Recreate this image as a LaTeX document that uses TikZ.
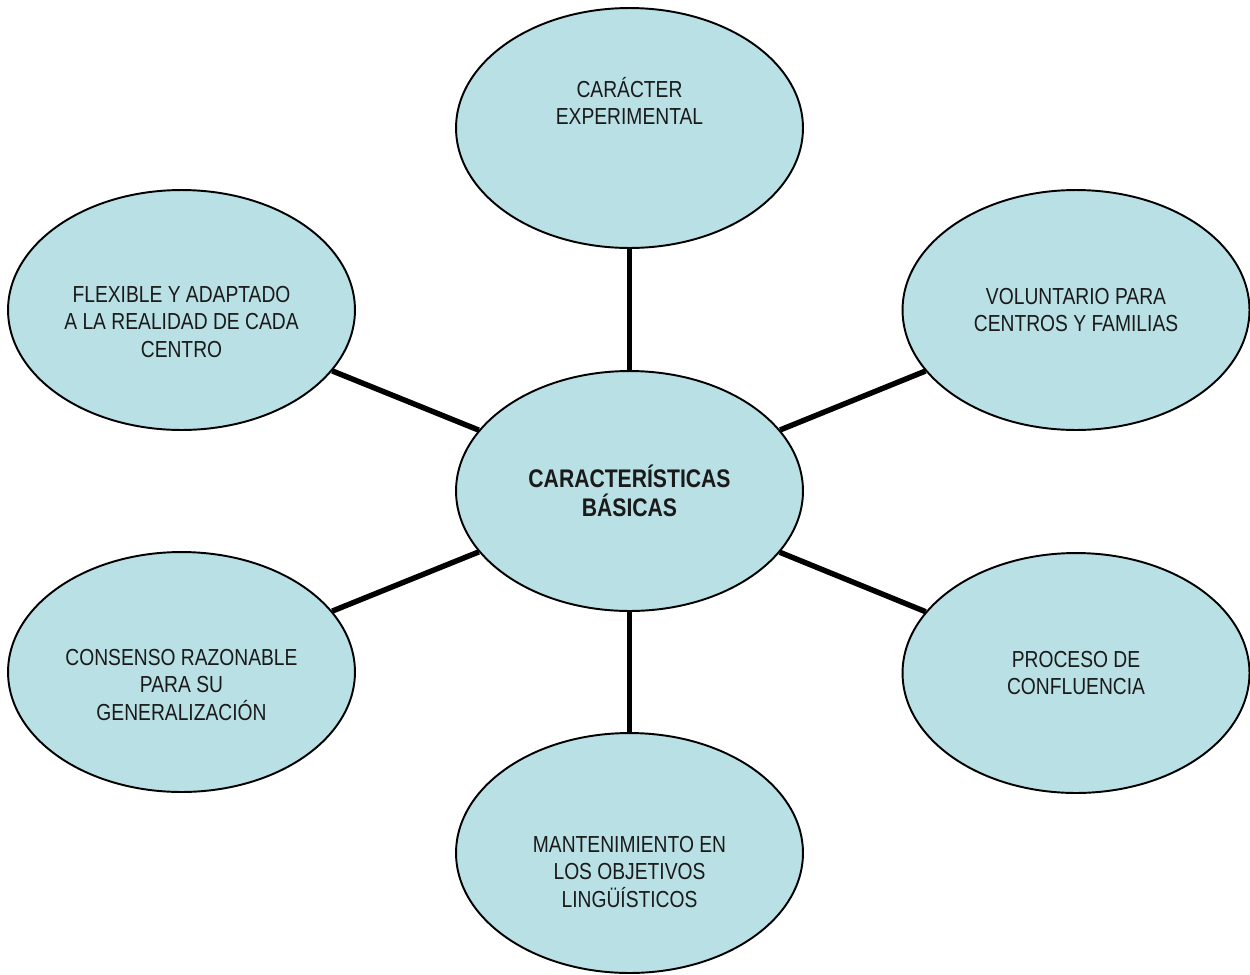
\documentclass[tikz,border=0pt]{standalone}
\usepackage{fontspec}
\setmainfont{Liberation Sans}[FakeStretch=0.83]
\usetikzlibrary{shapes.geometric}
\definecolor{celeste}{RGB}{185,224,228}
\definecolor{tinta}{RGB}{26,26,26}
\tikzstyle{burbuja}=[ellipse,draw=black,line width=1.1pt,fill=celeste,minimum width=6.94cm,minimum height=4.8cm,inner sep=0pt]
\tikzstyle{texto}=[text=tinta,align=center,inner sep=0pt,font=\fontsize{13.2pt}{15.6pt}\selectfont]
\tikzstyle{enlace}=[line width=3.1pt]
\newcommand{\burbuja}[5]{\node[burbuja,label={[texto,#5]center:{#4}}] (#1) at (#2,#3) {};}

\begin{document}
\begin{tikzpicture}[x=0.02cm,y=-0.02cm]
    \useasboundingbox (0,0) rectangle (1250,974);
    % centro y las seis caracteristicas
    \burbuja{bas}{629.5}{491}{CARACTERÍSTICAS\\BÁSICAS}{font=\bfseries\fontsize{14.5pt}{16.4pt}\selectfont}
    \burbuja{exp}{629.5}{128}{CARÁCTER\\EXPERIMENTAL}{yshift=0.54cm}
    \burbuja{vol}{1076}{310}{VOLUNTARIO PARA\\CENTROS Y FAMILIAS}{}
    \burbuja{conf}{1076}{673}{PROCESO DE\\CONFLUENCIA}{}
    \burbuja{mant}{629.5}{853}{MANTENIMIENTO EN\\LOS OBJETIVOS\\LINGÜÍSTICOS}{yshift=-0.38cm}
    \burbuja{cons}{181.5}{672}{CONSENSO RAZONABLE\\PARA SU\\GENERALIZACIÓN}{yshift=-0.26cm}
    \burbuja{flex}{181.5}{310}{FLEXIBLE Y ADAPTADO\\A LA REALIDAD DE CADA\\CENTRO}{yshift=-0.24cm}

    \foreach \b in {exp,vol,conf,mant,cons,flex}
        \draw[enlace] (bas) -- (\b);
\end{tikzpicture}
\end{document}
